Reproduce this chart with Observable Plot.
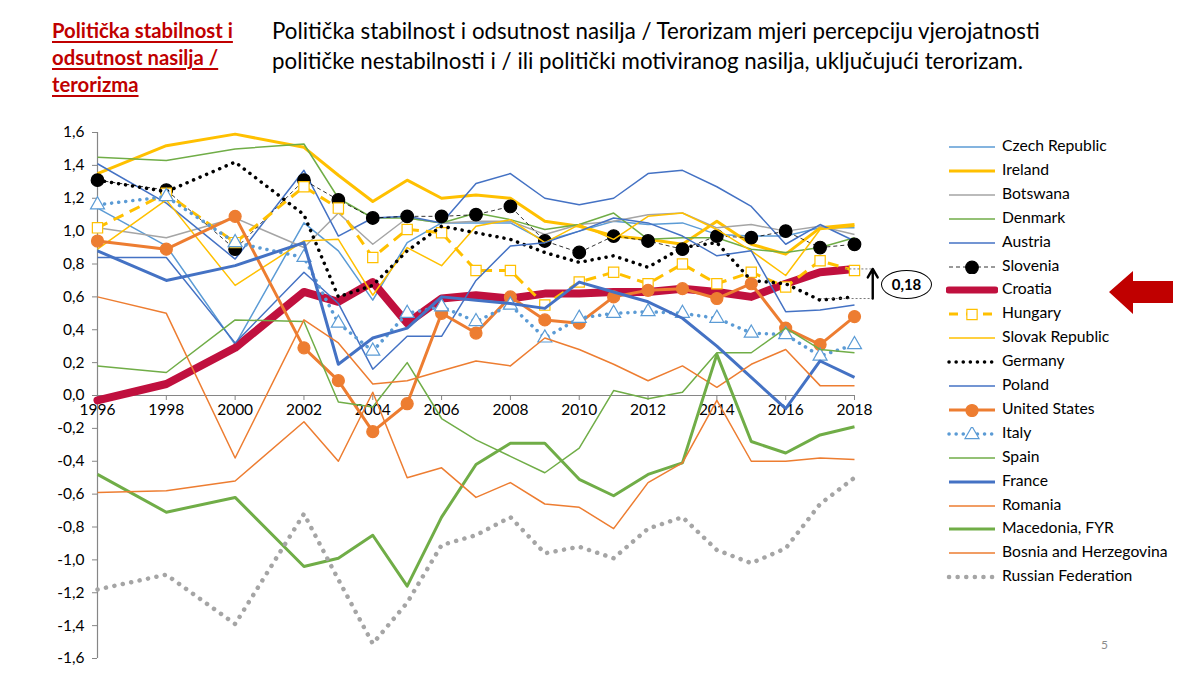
<!DOCTYPE html>
<html>
<head>
<meta charset="utf-8">
<script src="https://cdn.jsdelivr.net/npm/d3@7"></script>
<script src="https://cdn.jsdelivr.net/npm/@observablehq/plot@0.6"></script>
<style>
  html, body { margin:0; padding:0; background:#fff; }
  #page { position:relative; width:1200px; height:675px; overflow:hidden; font-family: Lato, "Noto Sans", sans-serif; }
  #titleL { position:absolute; left:52px; top:17px; color:#C00000; font-weight:bold; font-size:20.3px; line-height:27px; text-decoration:underline; text-underline-offset:3px; white-space:nowrap; }
  #titleR { position:absolute; left:272px; top:16px; color:#000; font-size:22.3px; line-height:30px; white-space:nowrap; }
  #chart { position:absolute; left:0; top:115px; }
  #legend { position:absolute; left:946px; top:135px; }
  .li { position:absolute; left:0; height:24px; width:250px; white-space:nowrap; font-size:15.7px; color:#000; }
  .li svg { position:absolute; left:0; top:5px; }
  .li span { position:absolute; left:56px; top:1px; }
  #ell { position:absolute; left:881px; top:270px; width:51px; height:29px; border:1.3px solid #000; border-radius:50%; box-sizing:border-box; font-weight:bold; font-size:15px; text-align:center; line-height:27px; }
  #pnum { position:absolute; left:1101px; top:637px; font-size:12px; color:#8c8c8c; }
  #redArrow { position:absolute; left:1105px; top:268px; }
</style>
</head>
<body>
<div id="page">
  <div id="titleL">Politička stabilnost i<br>odsutnost nasilja /<br>terorizma</div>
  <div id="titleR">Politička stabilnost i odsutnost nasilja / Terorizam mjeri percepciju vjerojatnosti<br>političke nestabilnosti i / ili politički motiviranog nasilja, uključujući terorizam.</div>
  <div id="chart"></div>
  <div id="legend"></div>
  <div id="ell">0,18</div>
  <svg id="redArrow" width="72" height="50"><polygon points="4,24 28,3 28,13 68,13 68,35 28,35 28,46" fill="#C00000"/></svg>
  <div id="pnum">5</div>
</div>
<script>
const years = [1996,1998,2000,2002,2003,2004,2005,2006,2007,2008,2009,2010,2011,2012,2013,2014,2015,2016,2017,2018];
const xTicks = [1996,1998,2000,2002,2004,2006,2008,2010,2012,2014,2016,2018];
const yTicks = [-1.6,-1.4,-1.2,-1.0,-0.8,-0.6,-0.4,-0.2,0,0.2,0.4,0.6,0.8,1.0,1.2,1.4,1.6];

const czech     = [1.14, 0.91, 0.31, 1.05, 0.88, 0.58, 0.93, 1.05, 1.05, 1.05, 0.94, 1.00, 1.06, 1.04, 1.05, 0.98, 0.97, 0.97, 1.02, 1.02];
const ireland   = [1.35, 1.52, 1.59, 1.51, 1.34, 1.18, 1.31, 1.20, 1.22, 1.20, 1.06, 1.03, 0.97, 0.95, 0.92, 1.06, 0.92, 0.86, 1.02, 1.04];
const botswana  = [1.02, 0.96, 1.08, 0.90, 1.11, 0.92, 1.08, 1.05, 1.06, 1.06, 0.98, 1.04, 1.06, 1.10, 1.11, 1.02, 1.04, 1.00, 1.03, 0.98];
const denmark   = [1.45, 1.43, 1.50, 1.53, 1.20, 1.08, 1.08, 1.05, 1.11, 1.07, 1.01, 1.04, 1.11, 0.95, 0.96, 0.96, 0.89, 0.87, 0.90, 0.96];
const austria   = [1.41, 1.17, 0.83, 1.37, 0.97, 1.08, 1.09, 1.05, 1.29, 1.35, 1.20, 1.16, 1.20, 1.35, 1.37, 1.27, 1.15, 0.92, 1.04, 0.94];
const slovenia  = [1.31, 1.25, 0.89, 1.31, 1.19, 1.08, 1.09, 1.09, 1.10, 1.15, 0.94, 0.87, 0.97, 0.94, 0.89, 0.97, 0.96, 1.00, 0.90, 0.92];
const croatia   = [-0.03, 0.07, 0.29, 0.63, 0.57, 0.69, 0.44, 0.59, 0.61, 0.59, 0.62, 0.62, 0.63, 0.63, 0.65, 0.63, 0.60, 0.68, 0.75, 0.77];
const hungary   = [1.02, 1.23, 0.93, 1.27, 1.14, 0.84, 1.01, 0.99, 0.76, 0.76, 0.55, 0.69, 0.75, 0.68, 0.80, 0.68, 0.75, 0.66, 0.82, 0.76];
const slovak    = [0.89, 1.19, 0.67, 0.94, 0.95, 0.61, 0.90, 0.79, 1.03, 1.07, 0.93, 1.04, 0.95, 1.09, 1.11, 1.01, 0.88, 0.73, 1.01, 1.03];
const germany   = [1.31, 1.24, 1.42, 1.10, 0.60, 0.67, 0.88, 1.03, 0.99, 0.95, 0.87, 0.81, 0.85, 0.78, 0.90, 0.93, 0.70, 0.68, 0.58, 0.60];
const poland    = [0.84, 0.84, 0.32, 0.75, 0.56, 0.16, 0.36, 0.36, 0.70, 0.91, 0.93, 1.00, 1.08, 1.05, 0.97, 0.85, 0.88, 0.51, 0.52, 0.55];
const usa       = [0.94, 0.89, 1.09, 0.29, 0.09, -0.22, -0.05, 0.50, 0.38, 0.60, 0.46, 0.44, 0.60, 0.64, 0.65, 0.59, 0.68, 0.41, 0.31, 0.48];
const italy     = [1.16, 1.21, 0.93, 0.84, 0.44, 0.27, 0.50, 0.54, 0.45, 0.55, 0.35, 0.47, 0.50, 0.51, 0.50, 0.47, 0.38, 0.37, 0.24, 0.31];
const spain     = [0.18, 0.14, 0.46, 0.45, -0.04, -0.07, 0.20, -0.14, -0.27, -0.37, -0.47, -0.32, 0.03, -0.02, 0.02, 0.26, 0.26, 0.41, 0.28, 0.26];
const france    = [0.88, 0.70, 0.79, 0.93, 0.19, 0.35, 0.41, 0.60, 0.58, 0.56, 0.53, 0.69, 0.63, 0.57, 0.47, 0.30, 0.11, -0.08, 0.21, 0.11];
const romania   = [0.60, 0.50, -0.38, 0.46, 0.32, 0.07, 0.09, 0.15, 0.21, 0.18, 0.35, 0.28, 0.19, 0.09, 0.18, 0.05, 0.19, 0.28, 0.06, 0.06];
const macedonia = [-0.48, -0.71, -0.62, -1.04, -0.99, -0.85, -1.16, -0.74, -0.42, -0.29, -0.29, -0.51, -0.61, -0.48, -0.41, 0.25, -0.28, -0.35, -0.24, -0.19];
const bosnia    = [-0.59, -0.58, -0.52, -0.16, -0.40, 0.02, -0.50, -0.44, -0.62, -0.53, -0.66, -0.68, -0.81, -0.53, -0.41, -0.03, -0.40, -0.40, -0.38, -0.39];
const russia    = [-1.18, -1.09, -1.39, -0.72, -1.12, -1.51, -1.26, -0.91, -0.85, -0.74, -0.96, -0.92, -0.99, -0.81, -0.74, -0.94, -1.02, -0.93, -0.66, -0.50];

// annotation values (Croatia 2018 vs Germany 2018)
const annotTop = 0.77, annotBottom = 0.59;

const series = [
  {name:"Czech Republic", values:czech, stroke:"#5B9BD5", width:1.5},
  {name:"Ireland", values:ireland, stroke:"#FFC000", width:3},
  {name:"Botswana", values:botswana, stroke:"#A5A5A5", width:1.5},
  {name:"Denmark", values:denmark, stroke:"#70AD47", width:1.5},
  {name:"Austria", values:austria, stroke:"#4472C4", width:1.5},
  {name:"Slovenia", values:slovenia, stroke:"#000", width:0.8, dash:"4,3", symbol:"circle", r:6.3, fill:"#000", mstroke:"#000"},
  {name:"Croatia", values:croatia, stroke:"#C0103E", width:8, cap:"round"},
  {name:"Hungary", values:hungary, stroke:"#FFC000", width:3, dash:"11,7", symbol:"square", r:5.8, fill:"#fff", mstroke:"#FFC000"},
  {name:"Slovak Republic", values:slovak, stroke:"#FFC000", width:1.5},
  {name:"Germany", values:germany, stroke:"#000", width:3.5, dash:"0.1,7", cap:"round"},
  {name:"Poland", values:poland, stroke:"#4472C4", width:1.5},
  {name:"United States", values:usa, stroke:"#ED7D31", width:3, symbol:"circle", r:6, fill:"#ED7D31", mstroke:"#ED7D31"},
  {name:"Italy", values:italy, stroke:"#5B9BD5", width:3.5, dash:"0.1,7", cap:"round", symbol:"triangle", r:5.2, fill:"#fff", mstroke:"#5B9BD5"},
  {name:"Spain", values:spain, stroke:"#70AD47", width:1.5},
  {name:"France", values:france, stroke:"#4472C4", width:3},
  {name:"Romania", values:romania, stroke:"#ED7D31", width:1.5},
  {name:"Macedonia, FYR", values:macedonia, stroke:"#70AD47", width:3},
  {name:"Bosnia and Herzegovina", values:bosnia, stroke:"#ED7D31", width:1.5},
  {name:"Russian Federation", values:russia, stroke:"#A5A5A5", width:4.5, dash:"0.1,8.5", cap:"round"}
];

const W = 1200, H = 560, mL = 97, mR = 346, mT = 17, mB = 17;
const zeroShift = -(H - mT - mB) / 2; // y=0 sits at the middle of the symmetric domain

const lineMarks = series.flatMap(s => {
  const data = years.map((yr, i) => ({year: yr, value: s.values[i]}));
  const m = [Plot.line(data, {x:"year", y:"value", stroke:s.stroke, strokeWidth:s.width,
    strokeDasharray:s.dash, strokeLinecap:s.cap || "butt", strokeLinejoin:"round"})];
  if (s.symbol) m.push(Plot.dot(data, {x:"year", y:"value", symbol:s.symbol, r:s.r,
    fill:s.fill, stroke:s.mstroke, strokeWidth:1.2}));
  return m;
});

const chart = Plot.plot({
  width: W, height: H,
  marginLeft: mL, marginRight: mR, marginTop: mT, marginBottom: mB,
  style: {fontFamily: "Lato, 'Noto Sans', sans-serif", fontSize: "15px", color: "#000", background: "transparent", overflow: "visible"},
  x: {domain: [1996, 2018]},
  y: {domain: [-1.6, 1.6]},
  marks: [
    Plot.ruleX([1996], {y1: -1.6, y2: 1.6, stroke: "#868686", strokeWidth: 1.2}),
    Plot.axisY({ticks: yTicks, tickFormat: d => d.toFixed(1).replace(".", ",").replace("-0,0", "0,0"),
      tickSize: 5, tickPadding: 8, stroke: "#868686", fill: "#000", fontSize: 15.5, label: null}),
    Plot.ruleY([0], {stroke: "#868686", strokeWidth: 1.2}),
    Plot.axisX({ticks: xTicks, tickFormat: d => String(d), tickSize: 5, tickPadding: 3,
      dy: zeroShift, stroke: "#868686", fill: "#000", fontSize: 15.5, label: null}),
    ...lineMarks,
    Plot.ruleY([annotTop], {x1: 2017.75, x2: 2018.55, stroke: "#555", strokeWidth: 0.8, strokeDasharray: "2,2", clip: false}),
    Plot.ruleY([annotBottom], {x1: 2017.0, x2: 2018.55, stroke: "#555", strokeWidth: 0.8, strokeDasharray: "2,2", clip: false}),
    Plot.arrow([{a: annotBottom, b: annotTop}], {x1: () => 2018.53, x2: () => 2018.53, y1: "a", y2: "b",
      stroke: "#000", strokeWidth: 2.4, headLength: 9, headAngle: 60, clip: false})
  ]
});
document.getElementById("chart").appendChild(chart);

// legend
const legend = document.getElementById("legend");
const ns = "http://www.w3.org/2000/svg";
series.forEach((s, i) => {
  const row = document.createElement("div");
  row.className = "li";
  row.style.top = (i * 23.9) + "px";
  const svg = document.createElementNS(ns, "svg");
  svg.setAttribute("width", 52); svg.setAttribute("height", 14);
  const ln = document.createElementNS(ns, "line");
  ln.setAttribute("x1", 3); ln.setAttribute("x2", 49); ln.setAttribute("y1", 7); ln.setAttribute("y2", 7);
  ln.setAttribute("stroke", s.stroke); ln.setAttribute("stroke-width", Math.min(s.width, 7));
  if (s.dash) ln.setAttribute("stroke-dasharray", s.name === "Hungary" ? "9,8" : s.dash);
  ln.setAttribute("stroke-linecap", s.cap || "butt");
  svg.appendChild(ln);
  if (s.symbol) {
    const sym = d3.symbol().type(s.symbol === "circle" ? d3.symbolCircle : s.symbol === "square" ? d3.symbolSquare : d3.symbolTriangle)
      .size(Math.PI * s.r * s.r)();
    const p = document.createElementNS(ns, "path");
    p.setAttribute("d", sym);
    p.setAttribute("transform", "translate(26,7.5)");
    p.setAttribute("fill", s.fill); p.setAttribute("stroke", s.mstroke); p.setAttribute("stroke-width", 1.2);
    svg.appendChild(p);
  }
  row.appendChild(svg);
  const t = document.createElement("span");
  t.textContent = s.name;
  row.appendChild(t);
  legend.appendChild(row);
});
</script>
</body>
</html>
